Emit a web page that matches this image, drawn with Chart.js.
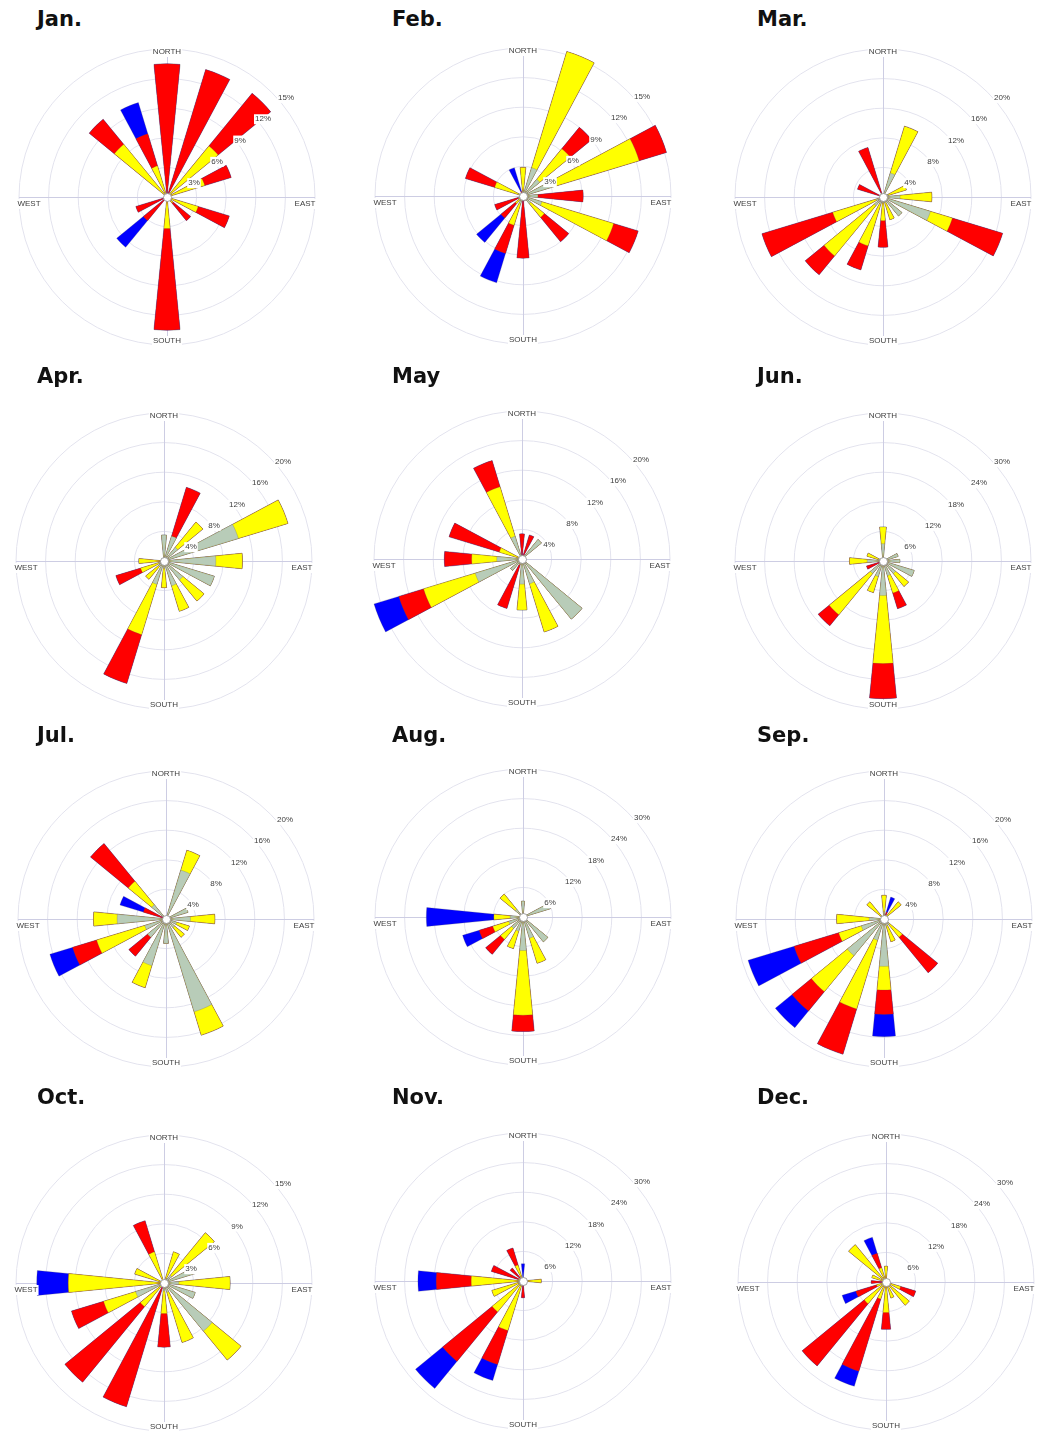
<!DOCTYPE html>
<html>
<head>
<meta charset="utf-8">
<script src="https://cdn.jsdelivr.net/npm/chart.js@4.4.1/dist/chart.umd.min.js"></script>
<style>
  html, body { margin: 0; padding: 0; background: #ffffff; }
  #page { position: relative; width: 1043px; height: 1446px; overflow: hidden; background: #ffffff; }
  .rose { position: absolute; }
  .title {
    position: absolute;
    font-family: "DejaVu Sans", Verdana, sans-serif;
    font-weight: bold;
    font-size: 21px;
    line-height: 1;
    color: #111111;
    white-space: nowrap;
  }
</style>
</head>
<body>
<div id="page"></div>
<script>
// Wind direction sectors, clockwise from north
const DIRECTIONS = ['N','NNE','NE','ENE','E','ESE','SE','SSE','S','SSW','SW','WSW','W','WNW','NW','NNW'];
const CARDINALS = ['NORTH', 'EAST', 'SOUTH', 'WEST'];
const MONTHS = ['Jan.','Feb.','Mar.','Apr.','May','Jun.','Jul.','Aug.','Sep.','Oct.','Nov.','Dec.'];
// Outer ring and ring step of each month's rose (% of observations)
const RING_MAX  = [15, 15, 20, 20, 20, 30, 20, 30, 20, 15, 30, 30];
const RING_STEP = [ 3,  3,  4,  4,  4,  6,  4,  6,  4,  3,  6,  6];

// Frequency (%) per direction for each wind speed class:
// green = lowest class, then yellow, red, blue = highest class
//                  N    NNE  NE   ENE  E    ESE  SE   SSE  S    SSW  SW   WSW  W    WNW  NW   NNW
const janGreen  = [0,   0,   0,   0,   0,   0,   0,   0,   0,   0,   0,   0,   0,   0,   0,   0  ];
const janYellow = [0,   0,   6.7, 4.0, 0,   3.3, 0.8, 0,   3.2, 0,   0,   0,   0,   0,   6.9, 3.3];
const janRed    = [13.5,13.5,6.9, 2.8, 0,   3.3, 2.3, 0,   10.3,0,   3.1, 3.3, 0,   0,   3.3, 3.4];
const janBlue   = [0,   0,   0,   0,   0,   0,   0,   0,   0,   0,   3.5, 0,   0,   0,   0,   3.3];

const febGreen  = [0.5, 3.0, 2.2, 3.3, 1.5, 2.0, 1.0, 0.5, 0,   0.8, 0,   0.5, 0,   0.5, 0,   0  ];
const febYellow = [2.4, 12.3,4.0, 9.0, 0,   7.6, 1.8, 0,   0,   2.3, 1.0, 0,   0,   2.5, 0,   0  ];
const febRed    = [0,   0,   2.8, 2.9, 4.6, 2.6, 3.2, 0,   6.3, 3.0, 1.9, 2.5, 0,   3.1, 0,   0.5];
const febBlue   = [0,   0,   0,   0,   0,   0,   0,   0,   0,   3.1, 3.2, 0,   0,   0,   0,   2.5];

const marGreen  = [0,   3.4, 0,   0.8, 2.3, 6.7, 3.3, 0.8, 0.8, 1.0, 1.5, 1.0, 0,   0.5, 0,   0.5];
const marYellow = [0,   6.6, 0,   2.5, 4.3, 3.1, 0,   2.4, 2.4, 5.9, 8.8, 6.1, 0,   0,   0,   0  ];
const marRed    = [0,   0,   0,   0,   0,   7.1, 0,   0,   3.6, 3.4, 3.3, 10.0,0,   3.1, 0,   6.5];
const marBlue   = [0,   0,   0,   0,   0,   0,   0,   0,   0,   0,   0,   0,   0,   0,   0,   0  ];

const aprGreen  = [3.5, 3.5, 2.4, 10.5,7.0, 7.1, 3.3, 3.5, 1.0, 3.3, 1.0, 0.8, 0.5, 0,   0,   0  ];
const aprYellow = [0,   0,   4.4, 7.0, 3.6, 0,   3.7, 3.6, 2.6, 7.1, 2.2, 2.5, 2.9, 0,   0,   0  ];
const aprRed    = [0,   6.9, 0,   0,   0,   0,   0,   0,   0,   6.9, 0,   3.5, 0,   0,   0,   0  ];
const aprBlue   = [0,   0,   0,   0,   0,   0,   0,   0,   0,   0,   0,   0,   0,   0,   0,   0  ];

const mayGreen  = [0.5, 0,   3.4, 0,   0,   0,   10.5,3.5, 3.4, 0.8, 2.0, 6.6, 3.4, 0.5, 0,   3.2];
const mayYellow = [0,   0,   0,   0,   0,   0,   0,   6.8, 3.5, 0,   0,   7.3, 3.4, 2.7, 0,   7.0];
const mayRed    = [2.9, 3.4, 0,   0,   0,   0,   0,   0,   0,   6.2, 0,   3.5, 3.7, 7.1, 0,   3.7];
const mayBlue   = [0,   0,   0,   0,   0,   0,   0,   0,   0,   0,   0,   3.5, 0,   0,   0,   0  ];

const junGreen  = [3.5, 0,   0,   3.2, 3.4, 6.6, 3.3, 3.1, 7.0, 3.3, 3.3, 0.5, 3.2, 1.0, 0,   0  ];
const junYellow = [3.4, 0,   0,   0,   0,   0,   3.4, 3.7, 13.8,3.4, 10.8,0,   3.6, 2.4, 0,   0  ];
const junRed    = [0,   0,   0,   0,   0,   0,   0,   3.3, 7.1, 0,   2.9, 3.0, 0,   0,   0,   0  ];
const junBlue   = [0,   0,   0,   0,   0,   0,   0,   0,   0,   0,   0,   0,   0,   0,   0,   0  ];

const julGreen  = [0,   6.9, 0,   3.1, 3.3, 1.5, 1.5, 13.1,3.3, 6.6, 3.2, 3.0, 6.6, 0,   2.5, 0  ];
const julYellow = [0,   2.8, 0,   0,   3.3, 1.8, 1.7, 3.3, 0,   3.1, 0,   6.8, 3.2, 0,   4.1, 0  ];
const julRed    = [0,   0,   0,   0,   0,   0,   0,   0,   0,   0,   3.3, 3.4, 0,   3.2, 6.6, 0  ];
const julBlue   = [0,   0,   0,   0,   0,   0,   0,   0,   0,   0,   0,   3.2, 0,   3.3, 0,   0  ];

const augGreen  = [3.2, 0,   0,   5.8, 0,   0,   6.5, 4.5, 6.8, 3.0, 3.0, 3.0, 2.6, 0,   2.0, 0  ];
const augYellow = [0,   0,   0,   0,   0,   0,   0,   5.3, 13.1,3.7, 2.9, 3.4, 3.3, 0,   4.0, 0  ];
const augRed    = [0,   0,   0,   0,   0,   0,   0,   0,   3.3, 0,   3.9, 2.9, 0,   0,   0,   0  ];
const augBlue   = [0,   0,   0,   0,   0,   0,   0,   0,   0,   0,   0,   3.5, 13.7,0,   0,   0  ];

const sepGreen  = [1.0, 0,   0.5, 0,   0,   0,   1.0, 1.0, 6.4, 3.0, 6.4, 3.2, 2.0, 0,   0.5, 0  ];
const sepYellow = [2.2, 0.5, 2.5, 0,   0,   0,   2.2, 2.2, 3.2, 9.7, 6.3, 3.2, 4.4, 0,   2.5, 0  ];
const sepRed    = [0,   0.5, 0,   0,   0,   0,   6.2, 0,   3.3, 6.4, 3.4, 6.3, 0,   0,   0,   0  ];
const sepBlue   = [0,   2.1, 0,   0,   0,   0,   0,   0,   3.0, 0,   2.9, 6.5, 0,   0,   0,   0  ];

const octGreen  = [0,   0.5, 1.0, 3.3, 1.5, 3.3, 6.3, 1.0, 0.8, 0,   0,   3.0, 0,   0,   0,   0  ];
const octYellow = [0,   2.8, 5.6, 0,   5.2, 0,   3.8, 5.3, 2.3, 0,   3.1, 3.4, 9.7, 3.1, 0,   3.3];
const octRed    = [0,   0,   0,   0,   0,   0,   0,   0,   3.4, 13.1,9.9, 3.4, 0,   0,   0,   3.3];
const octBlue   = [0,   0,   0,   0,   0,   0,   0,   0,   0,   0,   0,   0,   3.2, 0,   0,   0  ];

const novGreen  = [0,   0,   0,   0,   1.0, 0,   0,   0,   0,   1.0, 1.0, 1.0, 1.0, 0,   0,   0  ];
const novYellow = [0,   0,   0,   0,   2.7, 0,   0,   0,   0,   9.5, 7.1, 5.6, 9.5, 1.0, 0,   3.4];
const novRed    = [0,   0,   0,   0,   0,   0,   0,   0,   3.4, 7.2, 13.0,0,   7.1, 5.7, 3.4, 3.6];
const novBlue   = [3.5, 0,   0,   0,   0,   0,   0,   0,   0,   3.4, 7.1, 0,   3.7, 0,   0,   0  ];

const decGreen  = [0,   0,   0,   0,   0,   0,   0,   0,   0,   0,   0,   0,   0,   0,   0,   0  ];
const decYellow = [3.2, 0,   0,   0,   0,   3.1, 6.1, 3.4, 6.2, 3.6, 5.7, 2.0, 0,   3.0, 9.8, 3.0];
const decRed    = [0,   0,   0,   0,   0,   3.2, 0,   0,   3.4, 15.3,16.3,4.4, 3.0, 0,   0,   3.1];
const decBlue   = [0,   0,   0,   0,   0,   0,   0,   0,   0,   3.2, 0,   2.9, 0,   0,   0,   3.4];

const MONTH_CLASSES = [
  [janGreen, janYellow, janRed, janBlue],
  [febGreen, febYellow, febRed, febBlue],
  [marGreen, marYellow, marRed, marBlue],
  [aprGreen, aprYellow, aprRed, aprBlue],
  [mayGreen, mayYellow, mayRed, mayBlue],
  [junGreen, junYellow, junRed, junBlue],
  [julGreen, julYellow, julRed, julBlue],
  [augGreen, augYellow, augRed, augBlue],
  [sepGreen, sepYellow, sepRed, sepBlue],
  [octGreen, octYellow, octRed, octBlue],
  [novGreen, novYellow, novRed, novBlue],
  [decGreen, decYellow, decRed, decBlue]
];

// ---- styling and layout ----
const CLASS_COLORS = ['#b8ccb8', '#ffff00', '#ff0000', '#0000ff'];
const RADIUS = 148;                 // outer ring radius in px
const CANVAS = 340;
const PAD = (CANVAS - 2 * RADIUS) / 2;
// centre of each rose on the page, row by row
const CENTERS = [
  [167, 197], [523, 196], [883, 197],
  [164, 561], [522, 559], [883, 561],
  [166, 919], [523, 917], [884, 919],
  [164, 1283], [523, 1281], [886, 1282]
];
const TITLE_X = [37, 392, 757];
const TITLE_BASELINE = [27, 384, 743, 1105];

const LABEL_FONT = '8px "Liberation Sans", Arial, sans-serif';

// sector layout: each direction gets a wedge followed by an empty gap of equal width
function withGaps(values) {
  const out = [];
  values.forEach(v => { out.push(v, 0); });
  return out;
}
function cumulative(classes) {
  const sums = [];
  let running = new Array(DIRECTIONS.length).fill(0);
  classes.forEach(c => {
    running = running.map((v, i) => +(v + c[i]).toFixed(2));
    sums.push(running.slice());
  });
  return sums;
}

const roseDecor = {
  id: 'roseDecor',
  beforeDatasetsDraw(chart) {
    const s = chart.scales.r;
    const ctx = chart.ctx;
    const R = s.getDistanceFromCenterForValue(s.max);
    const cx = s.xCenter, cy = s.yCenter;
    ctx.save();
    ctx.strokeStyle = '#cdcde3';
    ctx.lineWidth = 1;
    ctx.beginPath();
    ctx.moveTo(cx - R, cy + 0.5); ctx.lineTo(cx + R, cy + 0.5);
    ctx.moveTo(cx + 0.5, cy - R); ctx.lineTo(cx + 0.5, cy + R);
    ctx.stroke();
    ctx.restore();
  },
  afterDatasetsDraw(chart) {
    const s = chart.scales.r;
    const ctx = chart.ctx;
    const R = s.getDistanceFromCenterForValue(s.max);
    const cx = s.xCenter, cy = s.yCenter;
    ctx.save();
    // calm circle in the middle
    ctx.beginPath();
    ctx.arc(cx + 0.5, cy + 0.5, 4, 0, Math.PI * 2);
    ctx.fillStyle = '#ffffff';
    ctx.fill();
    ctx.strokeStyle = '#8a8a8a';
    ctx.lineWidth = 0.8;
    ctx.stroke();

    ctx.font = LABEL_FONT;
    ctx.textAlign = 'center';
    ctx.textBaseline = 'middle';
    const label = (text, x, y) => {
      const w = ctx.measureText(text).width;
      ctx.fillStyle = '#ffffff';
      ctx.fillRect(x - w / 2 - 1, y - 5, w + 2, 10);
      ctx.fillStyle = '#404040';
      ctx.fillText(text, x, y);
    };
    // ring percentages along the north-east diagonal
    s.ticks.forEach(t => {
      if (t.value <= 0) return;
      const r = s.getDistanceFromCenterForValue(t.value);
      label(t.value + '%', cx + r * 0.777 + 4, cy - r * 0.72 + 7.5);
    });
    // compass names
    label(CARDINALS[0], cx, cy - R + 3);
    label(CARDINALS[1], cx + R - 10, cy + 7);
    label(CARDINALS[2], cx, cy + R - 4);
    label(CARDINALS[3], cx - R + 10, cy + 7);
    ctx.restore();
  }
};

const page = document.getElementById('page');

MONTHS.forEach((name, m) => {
  const [cx, cy] = CENTERS[m];
  const col = m % 3, row = Math.floor(m / 3);

  const title = document.createElement('div');
  title.className = 'title';
  title.textContent = name;
  title.style.left = TITLE_X[col] + 'px';
  title.style.top = (TITLE_BASELINE[row] - 18) + 'px';
  page.appendChild(title);

  const canvas = document.createElement('canvas');
  canvas.className = 'rose';
  canvas.width = CANVAS;
  canvas.height = CANVAS;
  canvas.style.width = CANVAS + 'px';
  canvas.style.height = CANVAS + 'px';
  canvas.style.left = (cx - CANVAS / 2) + 'px';
  canvas.style.top = (cy - CANVAS / 2) + 'px';
  page.appendChild(canvas);

  const sums = cumulative(MONTH_CLASSES[m]);
  const labels = withGaps(DIRECTIONS).map((v, i) => (i % 2 ? '' : v));
  const datasets = sums.map((vals, k) => ({
    label: ['class 1', 'class 2', 'class 3', 'class 4'][k],
    data: withGaps(vals),
    backgroundColor: CLASS_COLORS[k],
    borderColor: 'rgba(80,80,80,0.45)',
    borderWidth: ctx => (ctx.dataIndex % 2 ? 0 : 0.5),
    clip: false
  }));

  new Chart(canvas, {
    type: 'polarArea',
    data: { labels, datasets },
    options: {
      responsive: false,
      animation: false,
      events: [],
      layout: { padding: PAD },
      plugins: { legend: { display: false }, tooltip: { enabled: false } },
      scales: {
        r: {
          min: 0,
          max: RING_MAX[m],
          startAngle: -360 / 64,
          ticks: { display: false, stepSize: RING_STEP[m] },
          grid: { circular: true, color: '#e3e3ee', lineWidth: 1 },
          angleLines: { display: false },
          pointLabels: { display: false }
        }
      }
    },
    plugins: [roseDecor]
  });
});
</script>
</body>
</html>
